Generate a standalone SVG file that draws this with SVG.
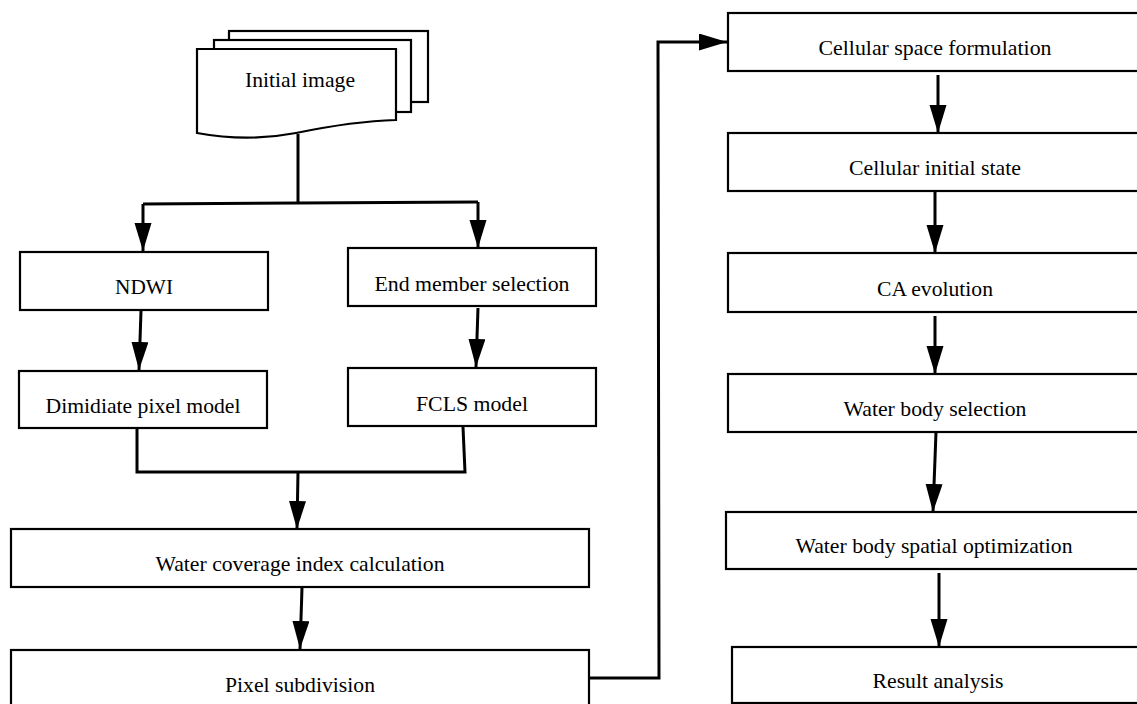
<svg xmlns="http://www.w3.org/2000/svg" width="1137" height="704" viewBox="0 0 1137 704">
<style>
.box{fill:#fff;stroke:#000;stroke-width:2.2}
.page{fill:#fff;stroke:#000;stroke-width:2.2;stroke-linejoin:miter}
text{font-family:"Times New Roman","Liberation Serif","DejaVu Serif",serif;font-size:22px;fill:#000;text-anchor:middle}
.c{fill:none;stroke:#000;stroke-width:3}
.a{fill:none;stroke:#000;stroke-width:3;marker-end:url(#ah)}
</style>
<defs>
<marker id="ah" markerUnits="userSpaceOnUse" markerWidth="30" markerHeight="18" refX="28" refY="8.5" orient="auto" viewBox="0 0 30 18">
<path d="M0,0 L28,8.5 L0,17 Z" fill="#000"/>
</marker>
</defs>
<rect width="1137" height="704" fill="#fff"/>
<g id="initial-image">
<rect class="page" x="229" y="31" width="199" height="71"/>
<rect class="page" x="214" y="40" width="197" height="72"/>
<path class="page" d="M197,49 L396,49 L396,120 C360,121 330,126 296,133 C265,139 235,140 197,133 Z"/>
<text x="300" y="87" textLength="110" lengthAdjust="spacingAndGlyphs">Initial image</text>
</g>
<g id="ndwi"><rect class="box" x="20" y="252" width="248" height="58"/><text x="144" y="294" textLength="58" lengthAdjust="spacingAndGlyphs">NDWI</text></g>
<g id="dimidiate"><rect class="box" x="19" y="371" width="248" height="57"/><text x="143" y="413" textLength="195" lengthAdjust="spacingAndGlyphs">Dimidiate pixel model</text></g>
<g id="end-member"><rect class="box" x="348" y="248" width="248" height="58"/><text x="472" y="291" textLength="195" lengthAdjust="spacingAndGlyphs">End member selection</text></g>
<g id="fcls"><rect class="box" x="348" y="368" width="248" height="58"/><text x="472" y="411" textLength="112" lengthAdjust="spacingAndGlyphs">FCLS model</text></g>
<g id="wci"><rect class="box" x="11" y="529" width="578" height="58"/><text x="300" y="571" textLength="289" lengthAdjust="spacingAndGlyphs">Water coverage index calculation</text></g>
<g id="pixel-subdivision"><rect class="box" x="11" y="650" width="578" height="60"/><text x="300" y="692" textLength="150" lengthAdjust="spacingAndGlyphs">Pixel subdivision</text></g>
<g id="cellular-space"><rect class="box" x="728" y="13" width="414" height="58"/><text x="935" y="55" textLength="233" lengthAdjust="spacingAndGlyphs">Cellular space formulation</text></g>
<g id="cellular-initial"><rect class="box" x="728" y="133" width="414" height="58"/><text x="935" y="175" textLength="172" lengthAdjust="spacingAndGlyphs">Cellular initial state</text></g>
<g id="ca-evolution"><rect class="box" x="728" y="253" width="414" height="59"/><text x="935" y="296" textLength="116" lengthAdjust="spacingAndGlyphs">CA evolution</text></g>
<g id="water-body-selection"><rect class="box" x="728" y="374" width="414" height="58"/><text x="935" y="416" textLength="183" lengthAdjust="spacingAndGlyphs">Water body selection</text></g>
<g id="spatial-optimization"><rect class="box" x="726" y="512" width="416" height="57"/><text x="934" y="553" textLength="277" lengthAdjust="spacingAndGlyphs">Water body spatial optimization</text></g>
<g id="result-analysis"><rect class="box" x="732" y="647" width="410" height="56"/><text x="938" y="688" textLength="131" lengthAdjust="spacingAndGlyphs">Result analysis</text></g>
<g id="connectors">
<path class="c" d="M298,134 L298,203"/>
<path class="c" d="M143,204 L478,202"/>
<path class="a" d="M143,204 L143,251"/>
<path class="a" d="M478,202 L478,248"/>
<path class="a" d="M141,311 L139,370"/>
<path class="a" d="M478,308 L476,367"/>
<path class="c" d="M137,428 L137,472 L465,472 L463,427"/>
<path class="a" d="M298,472 L297,529"/>
<path class="a" d="M302,588 L300,649"/>
<path class="a" d="M589,678 L659,678 L658,42 L727,42"/>
<path class="a" d="M938,75 L938,133"/>
<path class="a" d="M935,191 L935,253"/>
<path class="a" d="M935,316 L935,374"/>
<path class="a" d="M936,432 L933,512"/>
<path class="a" d="M939,573 L939,647"/>
</g>
</svg>
